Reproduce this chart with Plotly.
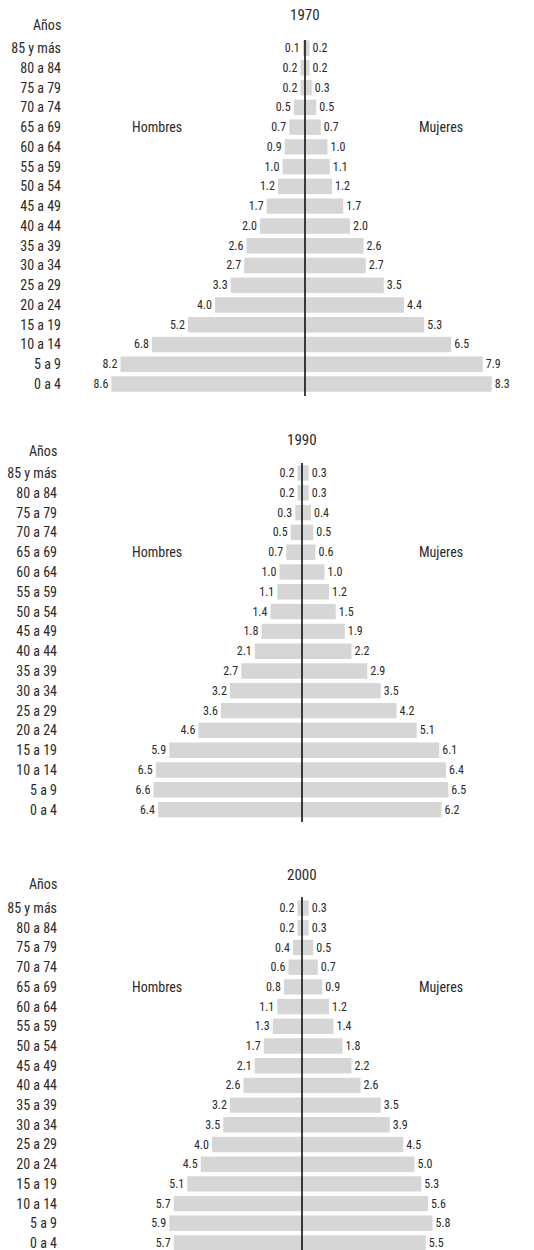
import plotly.graph_objects as go

# Age groups, listed top (oldest) to bottom (youngest) as in the picture
ages = ["85 y más", "80 a 84", "75 a 79", "70 a 74", "65 a 69", "60 a 64",
        "55 a 59", "50 a 54", "45 a 49", "40 a 44", "35 a 39", "30 a 34",
        "25 a 29", "20 a 24", "15 a 19", "10 a 14", "5 a 9", "0 a 4"]

years = ["1970", "1990", "2000"]

hombres_1970 = [0.1, 0.2, 0.2, 0.5, 0.7, 0.9, 1.0, 1.2, 1.7, 2.0, 2.6, 2.7, 3.3, 4.0, 5.2, 6.8, 8.2, 8.6]
mujeres_1970 = [0.2, 0.2, 0.3, 0.5, 0.7, 1.0, 1.1, 1.2, 1.7, 2.0, 2.6, 2.7, 3.5, 4.4, 5.3, 6.5, 7.9, 8.3]

hombres_1990 = [0.2, 0.2, 0.3, 0.5, 0.7, 1.0, 1.1, 1.4, 1.8, 2.1, 2.7, 3.2, 3.6, 4.6, 5.9, 6.5, 6.6, 6.4]
mujeres_1990 = [0.3, 0.3, 0.4, 0.5, 0.6, 1.0, 1.2, 1.5, 1.9, 2.2, 2.9, 3.5, 4.2, 5.1, 6.1, 6.4, 6.5, 6.2]

hombres_2000 = [0.2, 0.2, 0.4, 0.6, 0.8, 1.1, 1.3, 1.7, 2.1, 2.6, 3.2, 3.5, 4.0, 4.5, 5.1, 5.7, 5.9, 5.7]
mujeres_2000 = [0.3, 0.3, 0.5, 0.7, 0.9, 1.2, 1.4, 1.8, 2.2, 2.6, 3.5, 3.9, 4.5, 5.0, 5.3, 5.6, 5.8, 5.5]

W, H = 534, 1250
FONT = "'Roboto Condensed', 'Liberation Sans Narrow', 'DejaVu Sans Condensed', sans-serif"
TXT = "#2a2a2a"
BAR = "#d6d6d6"
PX_PER_UNIT = 22.5

# panel geometry in pixels
panels = [
    dict(cx=305, left=66, top=40, bottom=396, row0=384, step=19.76, title_y=15, anos_y=25),
    dict(cx=302, left=62, top=463, bottom=822, row0=809.6, step=19.8, title_y=440, anos_y=451),
    dict(cx=302, left=62, top=897, bottom=1250, row0=1243, step=19.7, title_y=875, anos_y=884),
]
data = [(hombres_1970, mujeres_1970), (hombres_1990, mujeres_1990), (hombres_2000, mujeres_2000)]

cats = ages[::-1]  # youngest first -> bottom
fig = go.Figure()
annotations = []
shapes = []
layout = {}

for i, (p, (hom, muj)) in enumerate(zip(panels, data)):
    s = "" if i == 0 else str(i + 1)
    xa, ya = "x" + s, "y" + s
    hom_r = hom[::-1]
    muj_r = muj[::-1]
    fig.add_trace(go.Bar(
        y=cats, x=[-v for v in hom_r], orientation="h", xaxis=xa, yaxis=ya,
        marker=dict(color=BAR, line=dict(width=0)),
        text=[f"{v:.1f}" for v in hom_r], textposition="outside",
        textfont=dict(family=FONT, size=12, color=TXT), cliponaxis=False,
        constraintext="none", showlegend=False, hoverinfo="skip"))
    fig.add_trace(go.Bar(
        y=cats, x=muj_r, orientation="h", xaxis=xa, yaxis=ya,
        marker=dict(color=BAR, line=dict(width=0)),
        text=[f"{v:.1f}" for v in muj_r], textposition="outside",
        textfont=dict(family=FONT, size=12, color=TXT), cliponaxis=False,
        constraintext="none", showlegend=False, hoverinfo="skip"))

    xr = [-(p["cx"] - p["left"]) / PX_PER_UNIT, (W - p["cx"]) / PX_PER_UNIT]
    yr = [(p["row0"] - p["bottom"]) / p["step"], (p["row0"] - p["top"]) / p["step"]]
    layout["xaxis" + s] = dict(domain=[p["left"] / W, 1], range=xr, anchor=ya,
                               visible=False, fixedrange=True)
    layout["yaxis" + s] = dict(domain=[1 - p["bottom"] / H, 1 - p["top"] / H], range=yr,
                               anchor=xa, type="category", showgrid=False, zeroline=False,
                               showline=False, ticks="", ticklabelstandoff=4,
                               tickfont=dict(family=FONT, size=14, color=TXT),
                               fixedrange=True)
    shapes.append(dict(type="line", xref=xa, yref=ya + " domain", x0=0, x1=0, y0=0, y1=1,
                       line=dict(color="#111111", width=1.6)))
    annotations.append(dict(text=years[i], xref="paper", yref="paper",
                            x=p["cx"] / W, y=1 - p["title_y"] / H, xanchor="center",
                            yanchor="middle", showarrow=False,
                            font=dict(family=FONT, size=15, color=TXT)))
    annotations.append(dict(text="Años", xref="paper", yref="paper",
                            x=(p["left"] - 3) / W, y=1 - p["anos_y"] / H, xanchor="right",
                            yanchor="middle", showarrow=False,
                            font=dict(family=FONT, size=14, color=TXT)))
    annotations.append(dict(text="Hombres", xref="paper", yref=ya,
                            x=157 / W, y=cats.index("65 a 69"), xanchor="center",
                            yanchor="middle", showarrow=False,
                            font=dict(family=FONT, size=14, color=TXT)))
    annotations.append(dict(text="Mujeres", xref="paper", yref=ya,
                            x=441 / W, y=cats.index("65 a 69"), xanchor="center",
                            yanchor="middle", showarrow=False,
                            font=dict(family=FONT, size=14, color=TXT)))

fig.update_layout(
    width=W, height=H, margin=dict(l=0, r=0, t=0, b=0),
    paper_bgcolor="white", plot_bgcolor="white",
    barmode="overlay", bargap=0.22,
    font=dict(family=FONT, color=TXT),
    annotations=annotations, shapes=shapes, **layout)

fig.write_html("out.html", config={"displayModeBar": False},
               post_script="document.body.style.margin='0';document.body.style.overflow='hidden';")
